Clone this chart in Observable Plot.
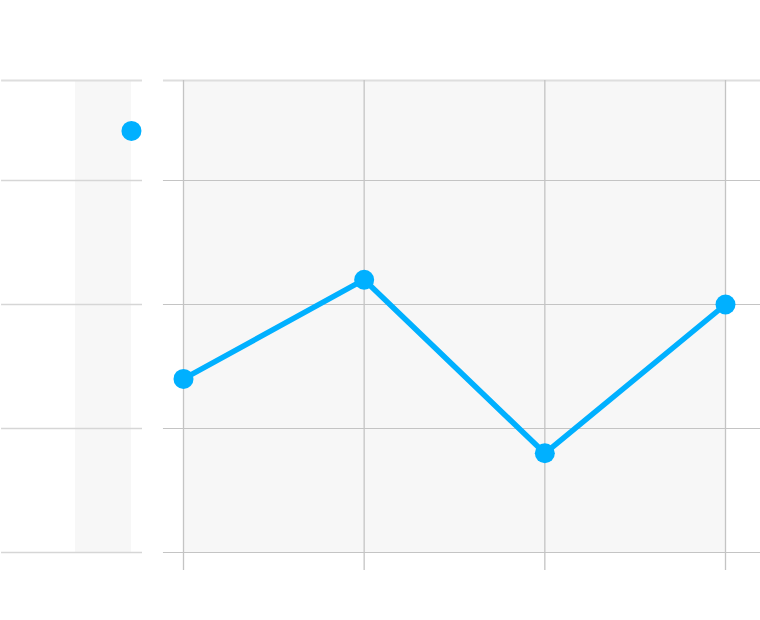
<!DOCTYPE html>
<html>
<head>
<meta charset="utf-8">
<script src="https://cdn.jsdelivr.net/npm/d3@7"></script>
<script src="https://cdn.jsdelivr.net/npm/@observablehq/plot@0.6"></script>
<style>
  html, body { margin: 0; padding: 0; background: #fff; }
  #chart svg { display: block; }
</style>
</head>
<body>
<div id="chart"></div>
<script>
// Data
const categories = [0, 1, 2, 3];
const values = [14, 22, 8, 20];
const sideValue = [34];
const yTicks = [0, 10, 20, 30];
const yTop = 38.06;

const series = categories.map((c, i) => ({x: c, y: values[i]}));

// Panel extents in x-data units
const sidePanel = {x1: -1.007, x2: -0.227};
const sideBand = {x1: -0.598, x2: -0.288};
const mainPanel = {x1: -0.111, x2: 3.2};

const blue = "#00b0ff";

const chart = Plot.plot({
  width: 760,
  height: 620,
  margin: 0,
  x: {domain: [0, 3], range: [183, 725], axis: null},
  y: {domain: [0, 30], range: [552, 180], axis: null},
  marks: [
    // backgrounds
    Plot.rect([0], {x1: sideBand.x1, x2: sideBand.x2, y1: 0, y2: yTop, fill: "#f7f7f7"}),
    Plot.rect([0], {x1: categories[0], x2: categories[categories.length - 1], y1: 0, y2: yTop, fill: "#f7f7f7"}),
    // horizontal grid, side panel
    Plot.ruleY(yTicks, {x1: sidePanel.x1, x2: sidePanel.x2, stroke: "#d6d6d6", strokeWidth: 1.5}),
    Plot.ruleY([yTop], {x1: sidePanel.x1, x2: sidePanel.x2, stroke: "#dedede", strokeWidth: 2}),
    // horizontal grid, main panel
    Plot.ruleY(yTicks, {x1: mainPanel.x1, x2: mainPanel.x2, stroke: "#c4c4c4", strokeWidth: 1.2}),
    Plot.ruleY([yTop], {x1: mainPanel.x1, x2: mainPanel.x2, stroke: "#dedede", strokeWidth: 2}),
    // vertical grid + ticks
    Plot.ruleX(categories, {y1: -1.45, y2: yTop, stroke: "#c4c4c4", strokeWidth: 1.3}),
    // side dot
    Plot.dot(sideValue, {x: sideBand.x2, y: d => d, r: 10, fill: blue}),
    // main line
    Plot.line(series, {x: "x", y: "y", stroke: blue, strokeWidth: 5.5, strokeLinejoin: "miter"}),
    Plot.dot(series, {x: "x", y: "y", r: 10, fill: blue})
  ]
});
document.getElementById("chart").appendChild(chart);
</script>
</body>
</html>
